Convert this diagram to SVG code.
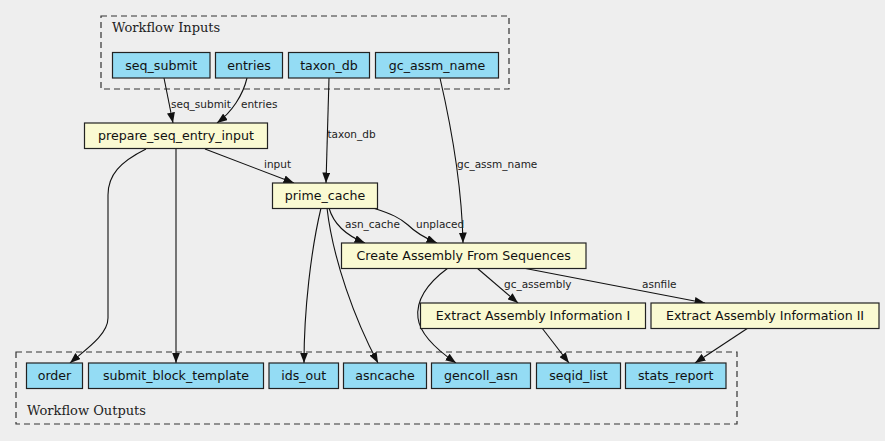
<svg xmlns="http://www.w3.org/2000/svg" width="885" height="441" viewBox="0 0 885 441">
<style>
.bg{fill:#eeeeee}
.cl{fill:none;stroke:#333;stroke-width:1.2;stroke-dasharray:6,4}
.ct{font-family:"DejaVu Serif",serif;font-size:13px;fill:#222}
.io rect{fill:#94dcf4;stroke:#222;stroke-width:1.2}
.pr rect{fill:#fafad2;stroke:#222;stroke-width:1.2}
.n text{font-family:"DejaVu Sans",sans-serif;font-size:12.6px;fill:#111;text-anchor:middle}
.e path{fill:none;stroke:#111;stroke-width:1.1}
.el{font-family:"DejaVu Sans",sans-serif;font-size:10.5px;fill:#222}
</style>
<defs>
<marker id="ah" markerUnits="userSpaceOnUse" markerWidth="11" markerHeight="8" refX="10.5" refY="4" orient="auto">
<path d="M0,0 L10.5,4 L0,8 z" fill="#111"/>
</marker>
</defs>
<rect class="bg" x="0" y="0" width="885" height="441"/>
<g id="cluster_inputs">
<rect class="cl" x="101" y="16" width="408" height="73"/>
<text class="ct" x="112" y="32">Workflow Inputs</text>
</g>
<g id="cluster_outputs">
<rect class="cl" x="16" y="352" width="721" height="72"/>
<text class="ct" x="27" y="415">Workflow Outputs</text>
</g>
<g id="connectors" class="e">
<path d="M164,78 L173,123" marker-end="url(#ah)"/>
<path d="M247,78 C243,95 232,112 217,123" marker-end="url(#ah)"/>
<path d="M329,78 L326,183" marker-end="url(#ah)"/>
<path d="M440,78 C452,130 462,190 463,243" marker-end="url(#ah)"/>
<path d="M205,149 L294,183" marker-end="url(#ah)"/>
<path d="M146,149 C120,162 108,175 108,195 L108,318 C108,335 85,350 70,363" marker-end="url(#ah)"/>
<path d="M176,149 L176,363" marker-end="url(#ah)"/>
<path d="M321,208 C311,250 304,310 304,363" marker-end="url(#ah)"/>
<path d="M327,208 C333,260 355,320 378,363" marker-end="url(#ah)"/>
<path d="M329,208 C333,222 345,235 365,243" marker-end="url(#ah)"/>
<path d="M373,208 C392,214 400,218 408,225 C415,232 425,238 437,243" marker-end="url(#ah)"/>
<path d="M448,268 C425,285 416,302 418,318 C420,335 440,352 456,363" marker-end="url(#ah)"/>
<path d="M477,268 L518,303" marker-end="url(#ah)"/>
<path d="M523,268 L705,303" marker-end="url(#ah)"/>
<path d="M542,328 L569,363" marker-end="url(#ah)"/>
<path d="M748,328 L695,363" marker-end="url(#ah)"/>
<text class="el" x="171" y="108">seq_submit</text>
<text class="el" x="241" y="108">entries</text>
<text class="el" x="327.5" y="137.5">taxon_db</text>
<text class="el" x="457" y="168">gc_assm_name</text>
<text class="el" x="264" y="168">input</text>
<text class="el" x="345" y="228.3">asn_cache</text>
<text class="el" x="416" y="228.3">unplaced</text>
<text class="el" x="504" y="288.3">gc_assembly</text>
<text class="el" x="642" y="288.3">asnfile</text>
</g>
<g id="seq_submit" class="n io"><rect x="112.5" y="52.5" width="97.5" height="25.5"/><text x="161.2" y="69.5">seq_submit</text></g>
<g id="entries" class="n io"><rect x="215.5" y="52.5" width="67" height="25.5"/><text x="249" y="69.5">entries</text></g>
<g id="taxon_db" class="n io"><rect x="288.5" y="52.5" width="81" height="25.5"/><text x="329" y="69.5">taxon_db</text></g>
<g id="gc_assm_name" class="n io"><rect x="375.5" y="52.5" width="123" height="25.5"/><text x="437" y="69.5">gc_assm_name</text></g>
<g id="prepare_seq_entry_input" class="n pr"><rect x="84.5" y="123" width="183" height="25.5"/><text x="176" y="140">prepare_seq_entry_input</text></g>
<g id="prime_cache" class="n pr"><rect x="272.5" y="183" width="105" height="25.5"/><text x="325" y="200">prime_cache</text></g>
<g id="create_assembly" class="n pr"><rect x="341.5" y="243" width="244.5" height="25.5"/><text x="463.7" y="260">Create Assembly From Sequences</text></g>
<g id="extract_1" class="n pr"><rect x="420.5" y="303" width="225" height="25.5"/><text x="533" y="320">Extract Assembly Information I</text></g>
<g id="extract_2" class="n pr"><rect x="651" y="303" width="228" height="25.5"/><text x="765" y="320">Extract Assembly Information II</text></g>
<g id="order" class="n io"><rect x="26.5" y="363" width="56" height="25.5"/><text x="54.5" y="380">order</text></g>
<g id="submit_block_template" class="n io"><rect x="88.5" y="363" width="175" height="25.5"/><text x="176" y="380">submit_block_template</text></g>
<g id="ids_out" class="n io"><rect x="269" y="363" width="69.5" height="25.5"/><text x="303.7" y="380">ids_out</text></g>
<g id="asncache" class="n io"><rect x="343.5" y="363" width="83" height="25.5"/><text x="385" y="380">asncache</text></g>
<g id="gencoll_asn" class="n io"><rect x="431.5" y="363" width="99" height="25.5"/><text x="481" y="380">gencoll_asn</text></g>
<g id="seqid_list" class="n io"><rect x="536.5" y="363" width="84" height="25.5"/><text x="578.5" y="380">seqid_list</text></g>
<g id="stats_report" class="n io"><rect x="625.5" y="363" width="100.5" height="25.5"/><text x="675.7" y="380">stats_report</text></g>
</svg>
